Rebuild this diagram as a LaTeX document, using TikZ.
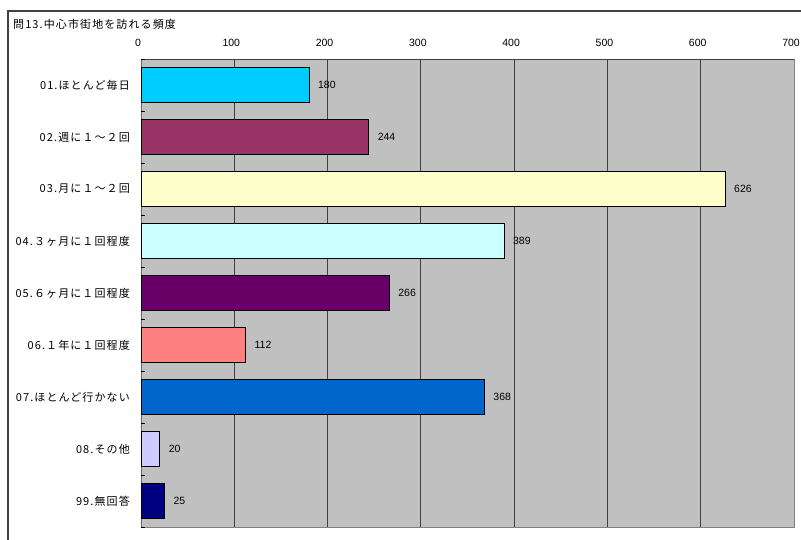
\documentclass[tikz,border=0pt]{standalone}
\usepackage{fontspec}
\setmainfont{Liberation Sans}
\newfontfamily\jp[LetterSpace=10]{Noto Sans CJK JP}
\definecolor{plotbg}{HTML}{C0C0C0}
\definecolor{frameline}{HTML}{404040}
\definecolor{cA}{HTML}{00CCFF}
\definecolor{cB}{HTML}{993366}
\definecolor{cC}{HTML}{FFFFCC}
\definecolor{cD}{HTML}{CCFFFF}
\definecolor{cE}{HTML}{660066}
\definecolor{cF}{HTML}{FF8080}
\definecolor{cG}{HTML}{0066CC}
\definecolor{cH}{HTML}{CCCCFF}
\definecolor{cI}{HTML}{000080}
\begin{document}
\begin{tikzpicture}[x=1pt,y=-1pt,
  framestyle/.style={draw=frameline,line width=1.2pt},
  gridstyle/.style={draw=black!75,line width=0.9pt},
  borderstyle/.style={draw=black!50,line width=0.9pt},
  barstyle/.style={draw=black,line width=0.7pt},
  ticklabel/.style={font=\fontsize{10.5}{12}\selectfont,inner sep=0pt},
  vallabel/.style={font=\fontsize{10.5}{12}\selectfont,anchor=west,inner sep=0pt},
  catlabel/.style={font=\jp\fontsize{11}{13}\selectfont,anchor=east,inner sep=0pt},
  titlestyle/.style={font=\jp\fontsize{11}{13}\selectfont,anchor=west,inner sep=0pt}]
\useasboundingbox (0,0) rectangle (801,540);
\fill[white] (0,0) rectangle (801,540);
\draw[framestyle] (8,540) -- (8,11) -- (801,11);
\node[titlestyle] (title) at (13,24) {問13.中心市街地を訪れる頻度};
% plot area
\def\xs{0.93286}
\fill[plotbg] (141,59) rectangle (794,527);
\foreach \v in {1,...,6}{
  \draw[gridstyle] ({141+\v*100*\xs},59) -- ({141+\v*100*\xs},527);
}
\draw[borderstyle] (141,527) -- (794,527) -- (794,59);
\draw[gridstyle] (141,59) -- (794,59);
\draw[draw=black!60,line width=0.6pt] (141,59) -- (141,527);
\foreach \k in {0,...,9}{
  \draw[black,line width=0.6pt] (141,{59+52*\k}) -- (145,{59+52*\k});
}
\foreach \v/\n in {0/t0,100/t1,200/t2,300/t3,400/t4,500/t5,600/t6,700/t7}{
  \node[ticklabel] (\n) at ({138+\v*\xs},43) {\v};
}
% bars
\foreach \i/\val/\col/\lab in {
  0/180/cA/01.ほとんど毎日,
  1/244/cB/02.週に１～２回,
  2/626/cC/03.月に１～２回,
  3/389/cD/04.３ヶ月に１回程度,
  4/266/cE/05.６ヶ月に１回程度,
  5/112/cF/06.１年に１回程度,
  6/368/cG/07.ほとんど行かない,
  7/20/cH/08.その他,
  8/25/cI/99.無回答}{
  \path[barstyle,fill=\col] (141,{67.5+52*\i}) rectangle ({141+\val*\xs},{102.5+52*\i});
  \coordinate (e\i) at ({141+\val*\xs},{85+52*\i});
  \node[vallabel] (v\i) at ([xshift=9pt]e\i) {\val};
  \node[catlabel] (c\i) at (130,{85+52*\i}) {\lab};
}
\end{tikzpicture}
\end{document}
